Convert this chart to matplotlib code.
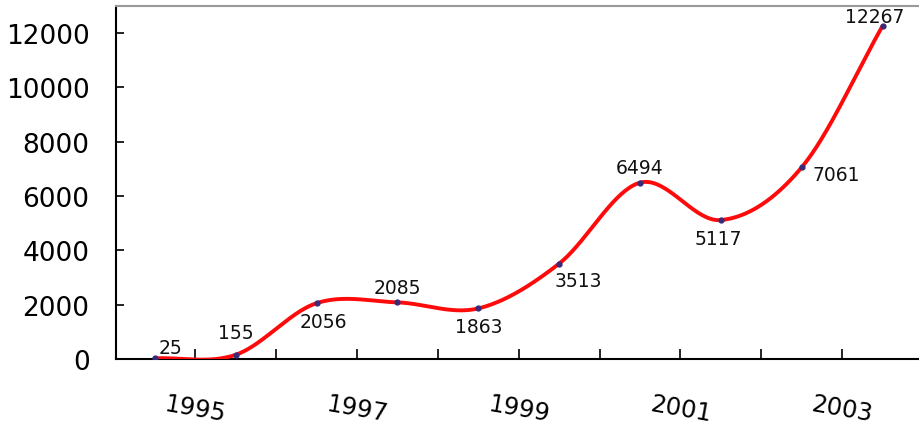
import numpy as np
import matplotlib
matplotlib.use("Agg")
import matplotlib.pyplot as plt

years = [1995, 1996, 1997, 1998, 1999, 2000, 2001, 2002, 2003, 2004]
values = [25, 155, 2056, 2085, 1863, 3513, 6494, 5117, 7061, 12267]
tick_labels = ["1995", "1997", "1999", "2001", "2003"]
yticks = [0, 2000, 4000, 6000, 8000, 10000, 12000]

# label offsets in points (dx, dy) relative to each point
label_offsets = [(11, 8), (0, 16), (5, -13), (0, 11), (0, -13), (14, -12),
                 (0, 11), (-2, -13), (25, -5), (-6, 7)]

plt.rcParams['font.family'] = ['DejaVu Sans']

fig = plt.figure(figsize=(9.19, 4.27), dpi=100)
ax = fig.add_axes([116/919, 1 - 360/427, 1 - 116/919, (360 - 7)/427])

x = np.arange(len(values), dtype=float)
y = np.array(values, dtype=float)

# Catmull-Rom smoothing for the drawn curve
px = np.concatenate([[2*x[0]-x[1]], x, [2*x[-1]-x[-2]]])
py = np.concatenate([[2*y[0]-y[1]], y, [2*y[-1]-y[-2]]])
sx, sy = [], []
t = np.linspace(0, 1, 40)
for i in range(1, len(px) - 2):
    p0, p1, p2, p3 = py[i-1], py[i], py[i+1], py[i+2]
    q0, q1, q2, q3 = px[i-1], px[i], px[i+1], px[i+2]
    def cr(a0, a1, a2, a3):
        return 0.5*((2*a1) + (-a0 + a2)*t + (2*a0 - 5*a1 + 4*a2 - a3)*t**2
                    + (-a0 + 3*a1 - 3*a2 + a3)*t**3)
    sx.append(cr(q0, q1, q2, q3))
    sy.append(cr(p0, p1, p2, p3))
sx = np.concatenate(sx)
sy = np.concatenate(sy)

ax.plot(sx, sy, color='#ff0a0a', lw=2.8, zorder=3, solid_capstyle='round')
ax.plot(x, y, 'o', color='#3a2a7a', ms=3.5, zorder=4)

for xi, yi, v, (dx, dy) in zip(x, y, values, label_offsets):
    ax.annotate(str(v), (xi, yi), xytext=(dx, dy), textcoords='offset points',
                ha='center', va='center', fontsize=13.5, color='#111111', zorder=5)

ax.set_xlim(-0.48, 9.45)
ax.set_ylim(0, 13000)

ax.set_yticks(yticks)
ax.set_yticklabels([str(v) for v in yticks])
ax.tick_params(axis='y', direction='in', length=6, width=1.2, labelsize=19, pad=19)

minor_pos = np.arange(len(values) - 1) + 0.5
ax.set_xticks(minor_pos)
labels = []
for i in range(len(minor_pos)):
    labels.append(tick_labels[i // 2] if i % 2 == 0 else "")
ax.set_xticklabels(labels, rotation=-10, ha='center', rotation_mode='default')
ax.tick_params(axis='x', direction='in', length=7, width=1.2, labelsize=17.5, pad=23)

for s in ['left', 'bottom']:
    ax.spines[s].set_linewidth(1.5)
    ax.spines[s].set_color('black')
ax.spines['right'].set_visible(False)
ax.spines['top'].set_color('#999999')
ax.spines['top'].set_linewidth(1.5)

fig.savefig('out.png', dpi=100)
